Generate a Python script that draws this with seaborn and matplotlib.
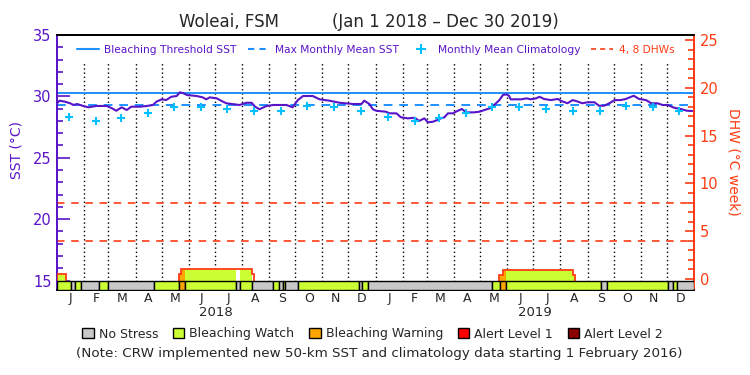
import numpy as np
import pandas as pd
import matplotlib
matplotlib.use('Agg')
import matplotlib.pyplot as plt
from matplotlib.patches import Patch
from matplotlib.lines import Line2D
from matplotlib.ticker import MultipleLocator
import seaborn as sns

#%% data (day = days since 1 Jan 2018)
sst_day = [0, 3, 9, 15, 19, 23, 30, 36, 45, 57, 63, 68, 74, 80, 85, 95, 103, 110, 114, 120,
           125, 131, 137, 141, 145, 149, 160, 167, 171, 175, 183, 188, 194, 209, 213, 217, 223,
           227, 232, 240, 248, 263, 270, 276, 282, 293, 301, 312, 324, 339, 349, 352, 358, 362,
           366, 377, 381, 389, 394, 402, 410, 415, 421, 425, 431, 436, 440, 444, 448, 454, 457,
           464, 469, 478, 484, 490, 496, 501, 507, 511, 515, 518, 520, 532, 538, 543, 549, 553,
           558, 566, 574, 578, 585, 591, 597, 602, 608, 616, 621, 627, 633, 639, 646, 652, 658,
           661, 667, 675, 681, 688, 694, 700, 707, 715, 722, 728]
sst_val = [29.44, 29.65, 29.57, 29.44, 29.30, 29.38, 29.22, 29.11, 29.22, 29.22, 29.03, 28.83,
           29.11, 28.89, 29.16, 29.16, 29.22, 29.30, 29.57, 29.76, 29.70, 29.97, 30.03, 30.33,
           30.25, 30.11, 30.03, 29.92, 29.76, 29.92, 29.84, 29.65, 29.44, 29.30, 29.38, 29.48,
           29.48, 29.16, 28.95, 29.22, 29.30, 29.30, 29.11, 29.70, 30.03, 30.03, 29.76, 29.65,
           29.48, 29.38, 29.38, 29.65, 29.38, 28.95, 28.83, 28.75, 28.62, 28.62, 28.30, 28.21,
           28.26, 28.00, 28.21, 27.89, 27.94, 28.08, 28.21, 28.30, 28.62, 28.62, 28.75, 28.97,
           28.70, 28.70, 28.75, 28.89, 29.03, 29.30, 29.70, 30.11, 30.17, 30.05, 29.76, 29.76,
           29.84, 29.76, 29.84, 29.97, 29.79, 29.70, 29.79, 29.62, 29.44, 29.70, 29.57, 29.44,
           29.52, 29.52, 29.24, 29.24, 29.44, 29.70, 29.70, 29.79, 29.97, 30.05, 29.79, 29.70,
           29.44, 29.44, 29.30, 29.30, 29.08, 28.97, 28.83, 28.81]

# monthly mean climatology Jan..Dec
clim_val = [28.30, 28.00, 28.21, 28.65, 29.11, 29.11, 28.95, 28.83, 28.83, 29.24, 29.11, 28.78]
mmm = 29.27
threshold = 30.27
dhw_lines = [4, 8]

# daily stress level blocks: 0 no stress, 1 watch, 2 warning
stress_edges = [0, 16, 21, 27, 48, 59, 111, 140, 147, 205, 210, 224, 248, 254, 259, 261, 276,
                346, 349, 356, 499, 508, 514, 623, 630, 700, 706, 710, 730]
stress_level = [1, 0, 1, 0, 1, 0, 1, 2, 1, 0, 1, 0, 1, 0, 1, 0, 1, 0, 1, 0, 1, 2, 1, 0, 1, 0, 1, 0]

# degree heating weeks (step values between edges)
dhw_edges = [0, 10, 140, 142, 224, 226, 507, 511, 591, 594, 730]
dhw_vals = [0.5, 0, 0.5, 1.0, 0.5, 0, 0.4, 0.9, 0.4, 0]

month_letters = ['J', 'F', 'M', 'A', 'M', 'J', 'J', 'A', 'S', 'O', 'N', 'D']
years = ['2018', '2019']
level_names = ['No Stress', 'Bleaching Watch', 'Bleaching Warning', 'Alert Level 1', 'Alert Level 2']
level_colors = ['#c8c8c8', '#ccff33', '#ffa500', '#ff0000', '#8b0000']

#%% styling
purple = '#5a14c8'
blue = '#1e90ff'
cyan = '#00c0ff'
red = '#ff3c14'

sns.set_style('white')
plt.rcParams['font.family'] = ['DejaVu Sans']

t0 = pd.Timestamp('2018-01-01')
mstart = (pd.date_range('2018-01-01', '2020-01-01', freq='MS') - t0).days.values
mmid = (mstart[:-1] + mstart[1:]) / 2
clim_day = mstart[:-1] + 14
clim_all = clim_val * 2

fig = plt.figure(figsize=(7.5, 3.75), dpi=100)
ax = fig.add_axes([57 / 750, 85 / 375, 637 / 750, 255 / 375])
ax2 = ax.twinx()

# month boundaries
for b in mstart[1:-1]:
    ax.axvline(b, ymax=0.89, color='k', lw=1.0, ls=(0, (1, 2)), zorder=1)

ax.axhline(threshold, color=blue, lw=1.4, zorder=2)
ax.axhline(mmm, color=blue, lw=1.4, ls=(0, (4.5, 3.5)), zorder=2)
sns.lineplot(x=sst_day, y=sst_val, ax=ax, color=purple, lw=1.5, zorder=3)
sns.scatterplot(x=clim_day, y=clim_all, ax=ax, marker='+', s=38, color=cyan, linewidth=1.5, zorder=4)

ax.set_xlim(0, 730)
ax.set_ylim(14.23, 35)
ax2.set_ylim(-1.15, 25.52)

for d in dhw_lines:
    ax2.axhline(d, color=red, lw=1.2, ls=(0, (4.5, 4)), zorder=1)

# dhw fill coloured by stress level, then outline
bar_top = -0.21
for i, v in enumerate(dhw_vals):
    if v <= 0:
        continue
    for j, lev in enumerate(stress_level):
        lo = max(dhw_edges[i], stress_edges[j])
        hi = min(dhw_edges[i + 1], stress_edges[j + 1])
        if hi > lo and lev > 0:
            ax2.bar(lo, v - bar_top, width=hi - lo, bottom=bar_top, align='edge',
                    color=level_colors[lev], lw=0, zorder=2)
grp_e, grp_v = [], []
for i, v in enumerate(dhw_vals + [0]):
    if v > 0:
        if not grp_e:
            grp_e.append(dhw_edges[i])
        grp_e.append(dhw_edges[i + 1])
        grp_v.append(v)
    elif grp_v:
        ax2.stairs(grp_v, grp_e, baseline=bar_top, color=red, lw=1.3, zorder=3)
        grp_e, grp_v = [], []

# stress bar
s_lo = np.array(stress_edges[:-1])
s_w = np.diff(stress_edges)
ax2.bar(s_lo, bar_top + 1.15, width=s_w, bottom=-1.15, align='edge',
        color=[level_colors[l] for l in stress_level], edgecolor='k', lw=1.0, zorder=4)

# axes cosmetics
ax.set_xticks(mmid)
ax.set_xticklabels(month_letters * 2, fontsize=9)
ax.tick_params(axis='x', length=0, pad=1.5)
ax.set_yticks([15, 20, 25, 30, 35])
ax.yaxis.set_minor_locator(MultipleLocator(1))
ax.tick_params(axis='y', which='major', direction='in', length=9, width=1.2, color=purple,
               labelcolor=purple, labelsize=10.5, left=True, pad=4)
ax.tick_params(axis='y', which='minor', direction='in', length=4.5, width=1.2, color=purple, left=True)
ax2.set_yticks([0, 5, 10, 15, 20, 25])
ax2.yaxis.set_minor_locator(MultipleLocator(1))
ax2.tick_params(axis='y', which='major', direction='in', length=6.5, width=1.2, color=red,
                labelcolor=red, labelsize=10.5, right=True, pad=4)
ax2.tick_params(axis='y', which='minor', direction='in', length=4.5, width=1.2, color=red, right=True)

for a in (ax, ax2):
    a.spines['top'].set_color('k')
    a.spines['bottom'].set_color('k')
    a.spines['left'].set_color(purple)
    a.spines['right'].set_color(red)
    for s in a.spines.values():
        s.set_linewidth(1.3)
ax.set_ylabel('')
ax2.set_ylabel('')

fig.text(17 / 750, 1 - 150 / 375, 'SST (\u00b0C)', color=purple, fontsize=10, rotation=90,
         ha='center', va='center')
fig.text(733 / 750, 1 - 162 / 375, 'DHW (\u00b0C week)', color=red, fontsize=10, rotation=-90,
         ha='center', va='center')

for k, yr in enumerate(years):
    ax.text(182.5 + 365 * k, -0.09, yr, transform=ax.get_xaxis_transform(), ha='center',
            va='center', fontsize=9.5)

fig.text(229 / 750, 1 - 22 / 375, 'Woleai, FSM', ha='center', va='center', fontsize=12)
fig.text(445 / 750, 1 - 22 / 375, '(Jan 1 2018 \u2013 Dec 30 2019)', ha='center', va='center',
         fontsize=12)

# top legend
handles = [Line2D([], [], color=blue, lw=1.5),
           Line2D([], [], color=blue, lw=1.5, ls=(0, (3, 2.5))),
           Line2D([], [], color=cyan, marker='+', ls='none', ms=7, mew=1.5),
           Line2D([], [], color=red, lw=1.2, ls=(0, (3, 2.5)))]
labels = ['Bleaching Threshold SST', 'Max Monthly Mean SST', 'Monthly Mean Climatology', '4, 8 DHWs']
leg = ax2.legend(handles, labels, ncol=4, loc='upper center', bbox_to_anchor=(0.5, 0.995),
                 frameon=True, facecolor='white', edgecolor='none', framealpha=1, fontsize=7.7,
                 handlelength=2.1, handletextpad=0.5, columnspacing=1.0, borderpad=0.3,
                 labelcolor=[purple, purple, purple, red])
leg.set_zorder(10)

# bottom legend
patches = [Patch(facecolor=c, edgecolor='k', lw=1) for c in level_colors]
fig.legend(patches, level_names, ncol=5, loc='center', bbox_to_anchor=(0.497, 1 - 334 / 375),
           frameon=False, fontsize=9, handlelength=0.9, handleheight=0.9, handletextpad=0.4,
           columnspacing=1.2)
fig.text(379 / 750, 1 - 354 / 375,
         '(Note: CRW implemented new 50-km SST and climatology data starting 1 February 2016)',
         ha='center', va='center', fontsize=9.7)

fig.savefig('out.png', dpi=100)
